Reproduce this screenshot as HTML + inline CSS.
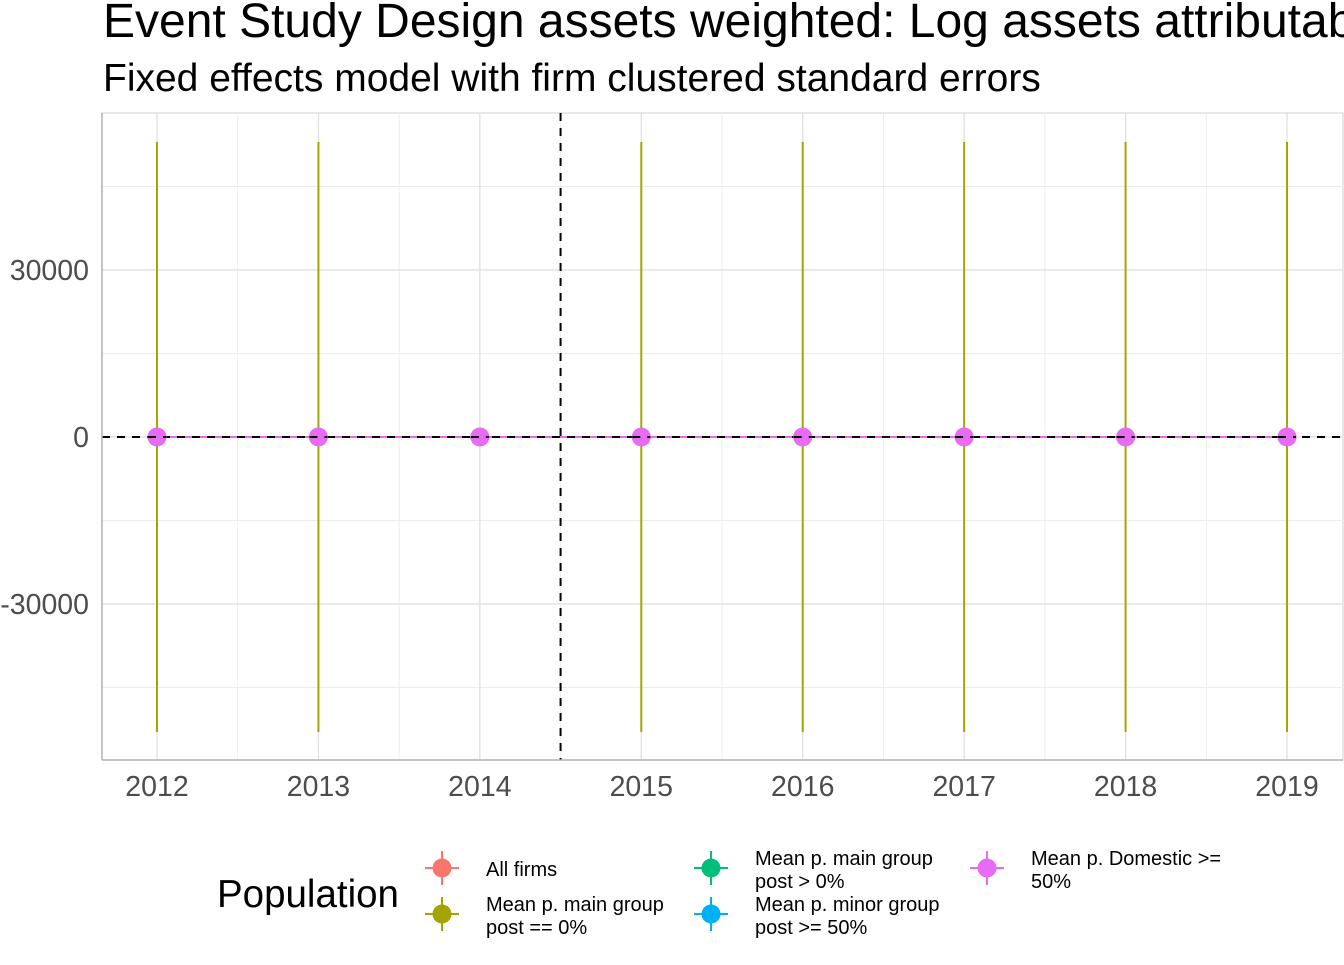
<!DOCTYPE html>
<html><head><meta charset="utf-8"><style>
body{margin:0;background:#fff;}
svg text{font-family:"Liberation Sans",sans-serif;}
</style></head><body>
<svg id="chart" width="1344" height="960" xmlns="http://www.w3.org/2000/svg">
<text x="103" y="37" font-size="48" fill="#000">Event Study Design assets weighted: Log assets attributable</text>
<text x="103" y="91" font-size="39" fill="#000">Fixed effects model with firm clustered standard errors</text>
<g id="grid"></g>
<g id="marks"></g>
<g id="axes"></g>
<g id="legend">
<text x="217" y="907" font-size="38.5">Population</text>
</g>
</svg>
<script>
const years=[2012,2013,2014,2015,2016,2017,2018,2019];
const estimates=[0,0,0,0,0,0,0,0];
const lowerCI=[-53000,-53000,0,-53000,-53000,-53000,-53000,-53000];
const upperCI=[53000,53000,0,53000,53000,53000,53000,53000];
const yTicks=[-30000,0,30000];
const yMinor=[-45000,-15000,15000,45000];
const treatYear=2014.5;
const NS="http://www.w3.org/2000/svg";
const L=102,R=1343,T=113,B=760;
const xs=y=>157+(y-2012)*161.43;
const ys=v=>437-v*(167/30000);
function mk(tag,attrs,parent){const e=document.createElementNS(NS,tag);for(const k in attrs)e.setAttribute(k,attrs[k]);parent.appendChild(e);return e;}
const grid=document.getElementById('grid'),marks=document.getElementById('marks'),axes=document.getElementById('axes'),legend=document.getElementById('legend');
mk('rect',{x:L,y:T,width:R-L,height:B-T,fill:'none',stroke:'#d9d9d9','stroke-width':1.2},grid);
yMinor.forEach(v=>{const l=mk('line',{x1:L,x2:R,y1:ys(v),y2:ys(v),stroke:'#ececec','stroke-width':1},grid);

});
for(let i=0;i<years.length-1;i++){const x=(xs(years[i])+xs(years[i+1]))/2;const l=mk('line',{x1:x,x2:x,y1:T,y2:B,stroke:'#ececec','stroke-width':1},grid);

}
yTicks.forEach(v=>{const l=mk('line',{x1:L,x2:R,y1:ys(v),y2:ys(v),stroke:'#dedede','stroke-width':1.2},grid);


const t=mk('text',{x:89,y:ys(v)+10,'font-size':28.5,fill:'#4d4d4d','text-anchor':'end'},axes);t.textContent=v;

});
years.forEach(y=>{const l=mk('line',{x1:xs(y),x2:xs(y),y1:T,y2:B,stroke:'#dedede','stroke-width':1.2},grid);


const t=mk('text',{x:xs(y),y:796,'font-size':28.5,fill:'#4d4d4d','text-anchor':'middle'},axes);t.textContent=y;

});
mk('line',{x1:L,x2:L,y1:T,y2:B,stroke:'#b3b3b3','stroke-width':1.5},axes);
mk('line',{x1:L,x2:R,y1:B,y2:B,stroke:'#b3b3b3','stroke-width':1.5},axes);
const pts=years.map((y,i)=>xs(y)+','+ys(estimates[i])).join(' ');
const pl=mk('polyline',{points:pts,fill:'none',stroke:'#e76bf3','stroke-width':2},marks);


years.forEach((y,i)=>{const e=mk('line',{x1:xs(y),x2:xs(y),y1:ys(upperCI[i]),y2:ys(lowerCI[i]),stroke:'#a3a500','stroke-width':2},marks);

});
const h=mk('line',{x1:L,x2:R,y1:ys(0),y2:ys(0),stroke:'#000','stroke-width':2,'stroke-dasharray':'8 7'},marks);


const v=mk('line',{x1:xs(treatYear),x2:xs(treatYear),y1:T,y2:B,stroke:'#000','stroke-width':2,'stroke-dasharray':'8 7'},marks);


years.forEach((y,i)=>{const c=mk('circle',{cx:xs(y),cy:ys(estimates[i]),r:9.5,fill:'#e76bf3'},marks);


mk('line',{x1:xs(y)-9,x2:xs(y)+9,y1:ys(0),y2:ys(0),stroke:'#000','stroke-width':2,'stroke-dasharray':'8 7'},marks);});
const entries=[['All firms',''],['Mean p. main group','post == 0%'],['Mean p. main group','post > 0%'],['Mean p. minor group','post >= 50%'],['Mean p. Domestic >=','50%']];
const colors=['#f8766d','#a3a500','#00bf7d','#00b0f6','#e76bf3'];
const pos=[[442,868],[442,914],[711,868],[711,914],[987,868]];
entries.forEach((en,i)=>{const g=mk('g',{},legend);


const [x,y]=pos[i];
mk('line',{x1:x-17,x2:x+17,y1:y,y2:y,stroke:colors[i],'stroke-width':2},g);
mk('line',{x1:x,x2:x,y1:y-17,y2:y+17,stroke:colors[i],'stroke-width':2},g);
mk('circle',{cx:x,cy:y,r:9.5,fill:colors[i]},g);
const tx=x+44;
if(en[1]===''){const t=mk('text',{x:tx,y:y+8,'font-size':20},g);t.textContent=en[0];}
else{const t1=mk('text',{x:tx,y:y-3,'font-size':20},g);t1.textContent=en[0];const t2=mk('text',{x:tx,y:y+20,'font-size':20},g);t2.textContent=en[1];}});
</script>
</body></html>
